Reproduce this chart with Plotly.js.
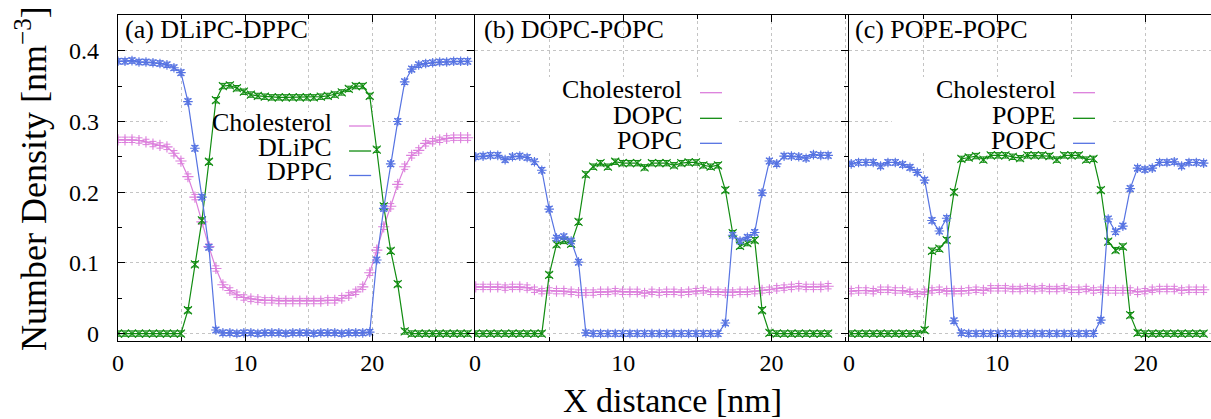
<!DOCTYPE html>
<html>
<head>
<meta charset="utf-8">
<script src="https://cdn.plot.ly/plotly-3.0.1.min.js"></script>
<style>
  html, body { margin: 0; padding: 0; overflow: hidden; background: #fff; }
  #chart { width: 1222px; height: 419px; }
</style>
</head>
<body>
<div id="chart"></div>
<script>
// Bin positions along the box (nm) for each membrane system
const xA = [0, 0.55, 1.1, 1.65, 2.2, 2.75, 3.3, 3.85, 4.4, 4.95, 5.5, 6.05, 6.6, 7.15, 7.7, 8.25, 8.8, 9.35, 9.9, 10.45,
  11, 11.55, 12.1, 12.65, 13.2, 13.75, 14.3, 14.85, 15.4, 15.95, 16.5, 17.05, 17.6, 18.15, 18.7, 19.25, 19.8, 20.35,
  20.9, 21.45, 22, 22.55, 23.1, 23.65, 24.2, 24.75, 25.3, 25.85, 26.4, 26.95, 27.5];
const xB = [0.05, 0.545, 1.04, 1.535, 2.03, 2.525, 3.02, 3.515, 4.01, 4.505, 5, 5.495, 5.99, 6.485, 6.98, 7.475, 7.97,
  8.465, 8.96, 9.455, 9.95, 10.445, 10.94, 11.435, 11.93, 12.425, 12.92, 13.415, 13.91, 14.405, 14.9, 15.395, 15.89,
  16.385, 16.88, 17.375, 17.87, 18.365, 18.86, 19.355, 19.85, 20.345, 20.84, 21.335, 21.83, 22.325, 22.82, 23.315, 23.81];
const xC = [0.15, 0.645, 1.14, 1.635, 2.13, 2.625, 3.12, 3.615, 4.11, 4.605, 5.1, 5.595, 6.09, 6.585, 7.08, 7.575, 8.07,
  8.565, 9.06, 9.555, 10.05, 10.545, 11.04, 11.535, 12.03, 12.525, 13.02, 13.515, 14.01, 14.505, 15, 15.495, 15.99,
  16.485, 16.98, 17.475, 17.97, 18.465, 18.96, 19.455, 19.95, 20.445, 20.94, 21.435, 21.93, 22.425, 22.92, 23.415, 23.91];

// (a) DLiPC-DPPC number densities [nm^-3]
const cholA = [0.274, 0.274, 0.274, 0.273, 0.271, 0.268, 0.266, 0.264, 0.255, 0.244, 0.222, 0.193, 0.158, 0.123, 0.092,
  0.069, 0.061, 0.055, 0.051, 0.049, 0.048, 0.047, 0.047, 0.046, 0.046, 0.046, 0.046, 0.046, 0.046, 0.046, 0.047,
  0.047, 0.050, 0.054, 0.059, 0.066, 0.086, 0.118, 0.151, 0.180, 0.211, 0.236, 0.252, 0.259, 0.269, 0.272, 0.274,
  0.276, 0.277, 0.277, 0.277];
const dlipcA = [0, 0, 0, 0, 0, 0, 0, 0, 0, 0, 0.033, 0.098, 0.160, 0.243, 0.330, 0.350, 0.351, 0.347, 0.342, 0.338,
  0.336, 0.335, 0.334, 0.334, 0.334, 0.334, 0.334, 0.334, 0.334, 0.335, 0.336, 0.338, 0.341, 0.346, 0.350, 0.350,
  0.336, 0.260, 0.180, 0.117, 0.070, 0.003, 0, 0, 0, 0, 0, 0, 0, 0, 0];
const dppcA = [0.385, 0.385, 0.386, 0.384, 0.384, 0.383, 0.382, 0.380, 0.376, 0.369, 0.328, 0.262, 0.193, 0.122, 0.005,
  0.001, 0.001, 0, 0.001, 0.001, 0, 0.001, 0.001, 0.001, 0, 0.001, 0.001, 0.001, 0, 0.001, 0.001, 0.001, 0, 0.001,
  0.001, 0.001, 0.002, 0.104, 0.177, 0.240, 0.300, 0.356, 0.374, 0.380, 0.382, 0.383, 0.384, 0.384, 0.385, 0.385, 0.385];

// (b) DOPC-POPC
const cholB = [0.066, 0.066, 0.066, 0.066, 0.065, 0.066, 0.066, 0.065, 0.062, 0.060, 0.061, 0.060, 0.060, 0.059, 0.058,
  0.058, 0.058, 0.059, 0.059, 0.060, 0.059, 0.059, 0.059, 0.057, 0.059, 0.058, 0.059, 0.059, 0.058, 0.059, 0.060,
  0.061, 0.059, 0.059, 0.058, 0.058, 0.059, 0.059, 0.060, 0.061, 0.062, 0.064, 0.065, 0.066, 0.067, 0.066, 0.066,
  0.066, 0.067];
const dopcB = [0, 0, 0, 0, 0, 0, 0, 0, 0, 0, 0.083, 0.126, 0.131, 0.127, 0.158, 0.225, 0.236, 0.241, 0.236, 0.243,
  0.241, 0.241, 0.241, 0.235, 0.241, 0.241, 0.241, 0.238, 0.241, 0.242, 0.242, 0.238, 0.236, 0.238, 0.203, 0.142,
  0.124, 0.128, 0.132, 0.033, 0.001, 0, 0, 0, 0, 0, 0, 0, 0];
const popcB = [0.250, 0.251, 0.252, 0.252, 0.246, 0.250, 0.251, 0.249, 0.243, 0.231, 0.176, 0.135, 0.137, 0.131, 0.101,
  0.001, 0, 0, 0, 0, 0, 0, 0, 0, 0, 0, 0, 0, 0, 0, 0, 0, 0, 0, 0.015, 0.139, 0.131, 0.136, 0.143, 0.199, 0.244,
  0.240, 0.251, 0.251, 0.250, 0.248, 0.253, 0.252, 0.252];

// (c) POPE-POPC
const cholC = [0.060, 0.061, 0.061, 0.060, 0.062, 0.062, 0.061, 0.061, 0.059, 0.056, 0.059, 0.061, 0.062, 0.060, 0.060,
  0.060, 0.061, 0.062, 0.061, 0.064, 0.064, 0.064, 0.063, 0.063, 0.064, 0.063, 0.064, 0.063, 0.063, 0.064, 0.062,
  0.062, 0.063, 0.061, 0.062, 0.061, 0.061, 0.061, 0.061, 0.059, 0.060, 0.062, 0.063, 0.063, 0.063, 0.061, 0.062,
  0.062, 0.062];
const popeC = [0, 0, 0, 0, 0, 0, 0, 0, 0, 0, 0.005, 0.117, 0.120, 0.132, 0.200, 0.247, 0.249, 0.251, 0.246, 0.252,
  0.252, 0.252, 0.250, 0.248, 0.252, 0.252, 0.252, 0.251, 0.246, 0.252, 0.252, 0.252, 0.246, 0.247, 0.203, 0.130,
  0.118, 0.123, 0.026, 0.001, 0, 0, 0, 0, 0, 0, 0, 0, 0];
const popcC = [0.240, 0.242, 0.242, 0.242, 0.237, 0.242, 0.242, 0.239, 0.235, 0.228, 0.217, 0.160, 0.145, 0.163, 0.018,
  0.001, 0, 0, 0, 0, 0, 0, 0, 0, 0, 0, 0, 0, 0, 0, 0, 0, 0, 0, 0.019, 0.162, 0.144, 0.152, 0.205, 0.234, 0.232,
  0.234, 0.242, 0.242, 0.243, 0.237, 0.242, 0.242, 0.241];

// Labels
const panelTitles = ['(a) DLiPC-DPPC', '(b) DOPC-POPC', '(c) POPE-POPC'];
const seriesNames = [
  ['Cholesterol', 'DLiPC', 'DPPC'],
  ['Cholesterol', 'DOPC', 'POPC'],
  ['Cholesterol', 'POPE', 'POPC']
];
const xTickVals = [0, 10, 20];
const yTickVals = [0, 0.1, 0.2, 0.3, 0.4];
const yTickText = ['0', '0.1', '0.2', '0.3', '0.4'];
const xTitle = 'X distance [nm]';
const yTitle = 'Number Density [nm<sup>\u22123</sup>]';

// Styling
const colors = ['#dc7fdc', '#108c10', '#5673e2'];
const symbols = ['cross-thin-open', 'x-thin-open', 'asterisk-open'];
const serif = 'Liberation Serif, Times New Roman, serif';
const gridColor = '#c4c4c4';

const panels = [
  { x: xA, ys: [cholA, dlipcA, dppcA], xa: 'x', ya: 'y', xmax: 28 },
  { x: xB, ys: [cholB, dopcB, popcB], xa: 'x2', ya: 'y2', xmax: 25.15 },
  { x: xC, ys: [cholC, popeC, popcC], xa: 'x3', ya: 'y3', xmax: 25.08 }
];
const yRange = [-0.0105, 0.4505];

const traces = [];
panels.forEach((p, pi) => {
  p.ys.forEach((ys, si) => {
    traces.push({
      type: 'scatter',
      mode: 'lines+markers',
      x: p.x,
      y: ys,
      xaxis: p.xa,
      yaxis: p.ya,
      name: seriesNames[pi][si],
      showlegend: false,
      line: { color: colors[si], width: 1.2 },
      marker: { symbol: symbols[si], size: 8, color: colors[si], line: { color: colors[si], width: 1.1 } },
      error_y: { type: 'constant', value: 0.0038, width: 3.5, thickness: 1, color: colors[si] }
    });
  });
});

const gridStyle = { showgrid: true, gridcolor: gridColor, griddash: 'dot', gridwidth: 1 };
const lineStyle = { showline: true, linecolor: '#000', linewidth: 1.3, zeroline: false };
const tickFont = { family: serif, size: 24, color: '#000' };

function xAxis(domain, range, anchor) {
  return Object.assign({}, lineStyle, gridStyle, {
    domain: domain, range: range, anchor: anchor,
    tickmode: 'array', tickvals: xTickVals, ticktext: xTickVals.map(String),
    ticks: 'inside', ticklen: 7, tickwidth: 1, tickcolor: '#000', mirror: 'ticks',
    tickfont: tickFont, ticklabelstandoff: 0,
    minor: { dtick: 5, tick0: 0, ticks: 'inside', ticklen: 4, tickcolor: '#000', showgrid: true,
             gridcolor: gridColor, griddash: 'dot', gridwidth: 1 }
  });
}
function yAxis(anchor, first) {
  return Object.assign({}, lineStyle, gridStyle, {
    anchor: anchor, range: yRange,
    tickmode: 'array', tickvals: yTickVals, ticktext: yTickText,
    ticks: 'inside', ticklen: 7, tickwidth: 1, tickcolor: '#000',
    side: first ? 'left' : 'right', mirror: first ? 'ticks' : true,
    showticklabels: first, tickfont: tickFont, ticklabelstandoff: 13,
    minor: { dtick: 0.05, tick0: 0, ticks: 'inside', ticklen: 4, tickcolor: '#000', showgrid: false }
  });
}

// Key boxes, sample lines and text positions as fractions of each panel's domain
const keys = [
  { box: [0.138, 0.730, 0.469, 0.7025], textX: 0.604, sample: [0.649, 0.711], rows: [0.6716, 0.5965, 0.5213], lines: [0.6595, 0.5828, 0.5077], titleX: 0.014 },
  { box: [0.121, 0.702, 0.580, 0.810], textX: 0.5584, sample: [0.6032, 0.6622], rows: [0.7724, 0.6920, 0.6160], lines: [0.7617, 0.6831, 0.6064], titleX: 0.018 },
  { box: [0.115, 0.702, 0.580, 0.810], textX: 0.560, sample: [0.6022, 0.6613], rows: [0.7724, 0.6920, 0.6160], lines: [0.7617, 0.6831, 0.6064], titleX: 0.011 }
];

const sampleShapes = [];
const keyBoxes = [];
const annotations = [];
panels.forEach((p, pi) => {
  const k = keys[pi];
  const xr = p.xa + ' domain', yr = p.ya + ' domain';
  const ySpan = yRange[1] - yRange[0];
  // opaque key background: sits over the grid but under the curves
  keyBoxes.push({ type: 'rect', xref: p.xa, yref: p.ya,
                  x0: k.box[0] * p.xmax, x1: k.box[1] * p.xmax,
                  y0: yRange[0] + k.box[2] * ySpan, y1: yRange[0] + k.box[3] * ySpan,
                  fillcolor: '#fff', line: { width: 0 }, layer: 'between' });
  seriesNames[pi].forEach((nm, si) => {
    annotations.push({ xref: xr, yref: yr, x: k.textX, y: k.rows[si], text: nm, showarrow: false,
                       xanchor: 'right', yanchor: 'middle', height: 24, borderpad: 0,
                       font: { family: serif, size: 26, color: '#000' } });
    sampleShapes.push({ type: 'line', xref: xr, yref: yr, x0: k.sample[0], x1: k.sample[1], y0: k.lines[si], y1: k.lines[si],
                        line: { color: colors[si], width: 1.3 }, layer: 'above' });
  });
  annotations.push({ xref: xr, yref: yr, x: k.titleX, y: 0.954, text: panelTitles[pi], showarrow: false,
                     xanchor: 'left', yanchor: 'middle', font: { family: serif, size: 26, color: '#000' } });
});

// Shared axis titles
annotations.push({ xref: 'paper', yref: 'paper', x: -0.0789, y: 0.5, text: yTitle, textangle: -90, showarrow: false,
                   xanchor: 'center', yanchor: 'middle', font: { family: serif, size: 36, color: '#000' } });
annotations.push({ xref: 'paper', yref: 'paper', x: 0.503, y: -0.181, text: xTitle, showarrow: false,
                   xanchor: 'center', yanchor: 'middle', font: { family: serif, size: 34, color: '#000' } });

const layout = {
  width: 1222, height: 419,
  margin: { l: 118, r: 1, t: 15, b: 78 },
  paper_bgcolor: '#fff', plot_bgcolor: '#fff',
  showlegend: false,
  xaxis: xAxis([0, 0.32276], [0, panels[0].xmax], 'y'),
  xaxis2: xAxis([0.32366, 0.66183], [0, panels[1].xmax], 'y2'),
  xaxis3: xAxis([0.66274, 1], [0, panels[2].xmax], 'y3'),
  yaxis: yAxis('x', true),
  yaxis2: yAxis('x2', false),
  yaxis3: yAxis('x3', false),
  shapes: sampleShapes.concat(keyBoxes),
  annotations: annotations
};

Plotly.newPlot('chart', traces, layout, { displayModeBar: false, staticPlot: true });
</script>
</body>
</html>
